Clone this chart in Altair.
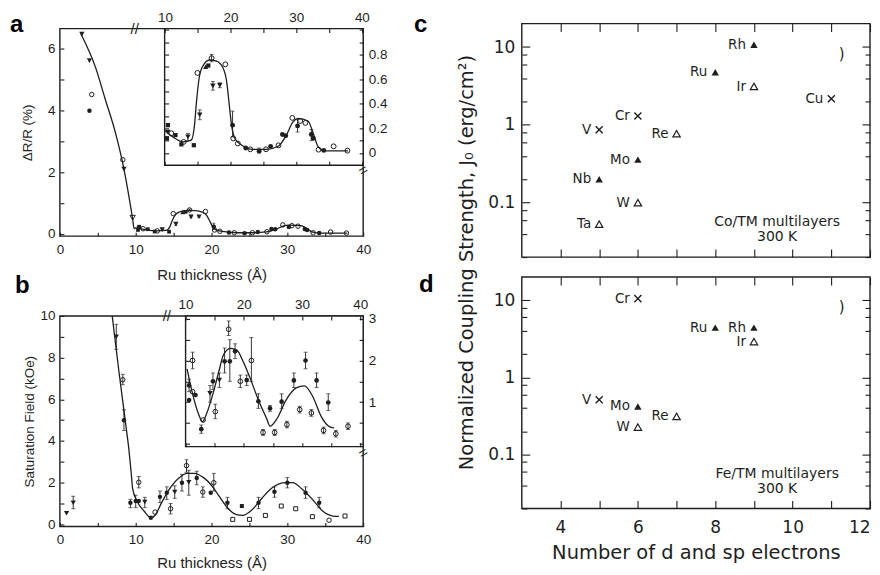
import altair as alt
import pandas as pd

# ================= DATA =================
# ---- Panel a, main: Delta R / R (%) vs Ru thickness (Angstrom), thin-Ru points ----
A_DOWN_X = [2.9, 3.9, 8.45]
A_DOWN_Y = [6.48, 5.62, 2.1]
A_OPEN_X = [4.2, 8.3]
A_OPEN_Y = [4.52, 2.4]
A_FILL_X = [3.9]
A_FILL_Y = [3.99]
A_OPENDOWN_X = [9.6]
A_OPENDOWN_Y = [0.52]
A_FIT_X = [2.75, 4.7, 6.0, 7.35, 8.45, 9.55, 9.8]
A_FIT_Y = [6.5, 5.4, 4.35, 3.26, 2.1, 0.55, 0.16]

# ---- Panel a, inset (same points are also plotted in the main panel) ----
AI_OPEN_X = [10.97, 12.85, 14.95, 17.1, 19.2, 20.4, 21.1, 23.0, 25.4, 27.3, 29.4, 30.6, 31.4, 33.4, 35.7, 37.8]
AI_OPEN_Y = [0.16, 0.09, 0.65, 0.77, 0.72, 0.118, 0.077, 0.03, 0.03, 0.062, 0.285, 0.26, 0.244, 0.027, 0.054, 0.019]
AI_FILL_X = [20.3, 22.3, 24.35, 26.1, 27.9, 28.4, 30.2, 32.3, 32.6, 34.2]
AI_FILL_Y = [0.226, 0.04, 0.015, 0.054, 0.15, 0.14, 0.22, 0.15, 0.12, 0.021]
AI_DOWN_X = [10.45, 13.5, 15.3, 17.3, 18.35]
AI_DOWN_Y = [0.17, 0.13, 0.31, 0.545, 0.55]
AI_SQ_X = [10.45, 10.3, 11.6, 12.5, 14.4, 16.6]
AI_SQ_Y = [0.226, 0.12, 0.145, 0.07, 0.063, 0.71]
AI_UP_X = [16.2]
AI_UP_Y = [0.70]
AI_ERR_X = [13.5, 15.3, 17.1, 17.3, 18.35, 20.3, 24.35, 30.2, 32.3]
AI_ERR_LO = [0.10, 0.27, 0.74, 0.51, 0.53, 0.13, 0.0, 0.17, 0.10]
AI_ERR_HI = [0.16, 0.35, 0.80, 0.58, 0.57, 0.34, 0.04, 0.27, 0.19]
AI_FIT_X = [9.95, 11.2, 12.75, 14.0, 14.5, 14.8, 15.2, 15.7, 16.8, 17.85, 18.85, 19.4, 19.8, 20.15,
            20.65, 21.7, 23.4, 25.5, 27.25, 28.5, 29.5, 30.3, 31.8, 32.6, 33.35, 34.4, 37.9]
AI_FIT_Y = [0.185, 0.13, 0.09, 0.104, 0.226, 0.415, 0.605, 0.70, 0.755, 0.746, 0.69, 0.58, 0.39, 0.226,
            0.118, 0.063, 0.03, 0.03, 0.055, 0.145, 0.253, 0.28, 0.26, 0.158, 0.05, 0.017, 0.017]

# ---- Panel b, main: saturation field (kOe) vs Ru thickness ----
B_DOWN_X = [0.88, 1.76, 7.44, 11.2, 15.15, 17.0]
B_DOWN_Y = [0.53, 1.04, 9.0, 1.07, 1.55, 2.02]
B_OPEN_X = [8.3, 10.4, 12.55, 14.6, 16.7, 18.85, 20.3, 35.5]
B_OPEN_Y = [6.94, 2.02, 0.59, 0.75, 2.82, 1.55, 2.0, 0.2]
B_FILL_X = [8.45, 9.3, 10.0, 10.4, 12.0, 13.2, 14.1, 16.1, 18.05, 19.9, 22.1, 26.2, 28.3, 30.0, 32.4, 34.2]
B_FILL_Y = [5.0, 1.04, 1.12, 1.12, 0.32, 1.32, 1.52, 2.0, 2.23, 1.52, 1.04, 1.04, 1.56, 2.0, 1.52, 1.04]
B_SQF_X = [24.0]
B_SQF_Y = [0.88]
B_SQO_X = [22.8, 25.0, 27.1, 29.2, 31.1, 33.3, 37.6]
B_SQO_Y = [0.24, 0.24, 0.43, 0.88, 0.75, 0.37, 0.4]
B_ERR_X = [1.76, 7.44, 8.3, 8.45, 10.4, 9.3, 10.0, 11.2, 13.2, 14.6, 14.1, 15.15, 16.1, 16.7, 17.0,
           18.05, 18.85, 20.3, 22.1, 26.2, 28.3, 30.0, 32.4, 34.2]
B_ERR_LO = [0.75, 8.4, 6.7, 4.5, 1.75, 0.8, 0.8, 0.8, 1.05, 0.5, 1.2, 1.25, 1.6, 2.5, 1.4,
            1.9, 1.3, 1.6, 0.75, 0.75, 1.3, 1.75, 1.25, 0.8]
B_ERR_HI = [1.35, 9.6, 7.2, 5.5, 2.3, 1.2, 1.4, 1.3, 1.6, 1.0, 1.8, 1.85, 2.4, 3.1, 2.6,
            2.55, 1.8, 2.45, 1.3, 1.3, 1.8, 2.25, 1.8, 1.3]
B_FIT_X = [6.9, 7.8, 8.7, 9.1, 9.4, 9.6, 10.2, 11.1, 12.0, 12.6, 13.3, 14.4, 15.7, 16.8, 17.7, 19.0,
           20.1, 21.0, 22.1, 23.2, 24.1, 25.4, 26.7, 28.0, 29.8, 30.7, 32.0, 33.3, 34.65, 36.0, 36.8]
B_FIT_Y = [10.0, 7.3, 4.75, 3.6, 2.5, 1.7, 1.1, 0.64, 0.32, 0.45, 0.96, 1.67, 2.23, 2.45, 2.45, 2.23,
           1.83, 1.35, 0.8, 0.48, 0.43, 0.72, 1.28, 1.76, 2.0, 2.0, 1.67, 1.2, 0.64, 0.4, 0.38]

# ---- Panel b, inset ----
BI_FILL_X = [10.6, 10.6, 11.7, 12.7, 14.7, 16.7, 17.6, 18.5, 20.5, 22.5, 24.5, 26.5, 28.6, 30.6, 32.5, 34.5]
BI_FILL_Y = [1.4, 1.05, 1.17, 0.35, 1.50, 1.98, 1.98, 2.22, 1.53, 1.02, 0.85, 1.01, 1.52, 2.0, 1.52, 0.99]
BI_DOWN_X = [14.2, 15.8]
BI_DOWN_Y = [1.21, 1.53]
BI_OPEN_X = [11.2, 11.2, 13.0, 15.1, 17.4, 19.4, 21.3, 23.3, 25.3, 27.4, 29.6, 31.6, 33.7, 35.8, 37.9]
BI_OPEN_Y = [2.0, 1.25, 0.57, 0.77, 2.75, 1.5, 2.0, 0.27, 0.27, 0.46, 0.82, 0.74, 0.32, 0.24, 0.42]
BI_ERR_X = [11.2, 10.6, 12.7, 14.2, 14.7, 15.1, 15.8, 16.7, 17.6, 17.4, 18.5, 19.4, 21.3, 20.5, 22.5,
            24.5, 23.3, 25.3, 26.5, 27.4, 28.6, 29.6, 30.6, 31.6, 32.5, 33.7, 34.5, 35.8, 37.9]
BI_ERR_LO = [1.8, 1.25, 0.25, 1.0, 1.3, 0.6, 1.35, 1.7, 1.5, 2.6, 2.05, 1.35, 1.5, 1.4, 0.85,
             0.78, 0.2, 0.2, 0.85, 0.38, 1.35, 0.74, 1.8, 0.66, 1.35, 0.24, 0.8, 0.16, 0.34]
BI_ERR_HI = [2.2, 1.55, 0.45, 1.4, 1.7, 0.95, 1.7, 2.3, 2.5, 2.95, 2.4, 1.65, 2.55, 1.65, 1.2,
             0.92, 0.34, 0.34, 1.2, 0.54, 1.7, 0.9, 2.2, 0.82, 1.7, 0.4, 1.2, 0.32, 0.5]
BI_FIT_X = [10.25, 11.4, 12.2, 12.9, 13.6, 14.8, 15.7, 16.5, 17.7, 18.8, 19.9, 21.1, 22.5, 23.9, 24.5,
            25.6, 27.3, 29.0, 30.4, 31.85, 33.3, 34.7, 35.5]
BI_FIT_Y = [1.8, 1.09, 0.72, 0.53, 0.72, 1.25, 1.73, 2.13, 2.29, 2.25, 1.97, 1.57, 1.05, 0.61, 0.42,
            0.58, 1.06, 1.34, 1.39, 1.13, 0.65, 0.41, 0.38]

# ---- Panel c: Co/TM multilayers ----
C_ELEM = ["V", "Cr", "Cu", "Nb", "Mo", "Ru", "Rh", "Ta", "W", "Re", "Ir"]
C_X = [5, 6, 11, 5, 6, 8, 9, 5, 6, 7, 9]
C_Y = [0.867, 1.30, 2.17, 0.20, 0.358, 4.75, 10.7, 0.053, 0.10, 0.77, 3.11]
C_SYM = ["x", "x", "x", "f", "f", "f", "f", "o", "o", "o", "o"]

# ---- Panel d: Fe/TM multilayers ----
D_ELEM = ["Cr", "V", "Mo", "Ru", "Rh", "W", "Re", "Ir"]
D_X = [6, 5, 6, 8, 9, 6, 7, 9]
D_Y = [10.5, 0.513, 0.42, 4.42, 4.42, 0.227, 0.312, 2.91]
D_SYM = ["x", "x", "f", "f", "f", "o", "o", "o"]

# ================= STYLE / LAYOUT =================
FA = "Liberation Sans"
FC = "DejaVu Sans"
INK = "#1e1e1e"
W, H = 866, 565
ONE = pd.DataFrame({"k": [0]})
XPATH = "M-1,-1L1,1M-1,1L1,-1"

# panel boxes in chart pixels: (left, right, top, bottom)
BOX_A = (52, 356, 20, 228)
BOX_AI = (157, 356, 20, 157)
BOX_B = (52, 356, 308, 519)
BOX_BI = (178, 356, 308, 439)
BOX_C = (515, 864, 15, 249)
BOX_D = (515, 864, 269, 501)

DOM_A = ([0, 40], [-0.08, 6.66])
DOM_AI = ([9.95, 40.2], [-0.1, 1.01])
DOM_B = ([0, 40], [-0.1, 10])
DOM_BI = ([10.0, 40.5], [-0.07, 3.07])
DOM_CD = ([3, 12], [0.02, 20])


def sx(dom, box):
    return alt.Scale(domain=dom, range=[box[0], box[1]], nice=False, zero=False)


def sy(dom, box, log=False):
    if log:
        return alt.Scale(type="log", domain=dom, range=[box[3], box[2]], nice=False)
    return alt.Scale(domain=dom, range=[box[3], box[2]], nice=False, zero=False)


def ax(orient, box, values, tick=4, labels=True, expr=None, font=FA, fs=13.5, pad=5,
       title=None, tfs=14, tpad=0, fmt=None, flush=False):
    L, R, T, B = box
    if orient == "left":
        off = -(L + tick)
    elif orient == "right":
        off = R - tick - W
    elif orient == "top":
        off = -(T + tick)
    else:
        off = B - tick - H
    kw = dict(orient=orient, values=values, offset=off, tickSize=tick, ticks=True, tickColor=INK,
              tickWidth=1.1, domain=False, grid=False, labels=labels, labelFont=font,
              labelFontSize=fs, labelColor=INK, labelPadding=pad, labelFlush=flush,
              labelOverlap=False, zindex=3, minExtent=0)
    if expr:
        kw["labelExpr"] = expr
    if fmt:
        kw["format"] = fmt
    if title is not None:
        kw.update(title=title, titleFont=font, titleFontSize=tfs, titleFontWeight="normal",
                  titleColor=INK, titlePadding=tpad)
    else:
        kw["title"] = None
    return alt.Axis(**kw)


def carrier(dom, xs_, ys_, xaxis, yaxis):
    df = pd.DataFrame({"x": [dom[0][0]], "y": [dom[1][0]]})
    return alt.Chart(df).mark_point(opacity=0).encode(
        x=alt.X("x:Q", scale=xs_, axis=xaxis), y=alt.Y("y:Q", scale=ys_, axis=yaxis))


def pts(xs, ys, xs_, ys_, shape="circle", filled=True, size=24, sw=1.0):
    df = pd.DataFrame({"x": xs, "y": ys})
    return alt.Chart(df).mark_point(shape=shape, filled=filled, size=size, color=INK,
                                    strokeWidth=sw, opacity=1).encode(
        x=alt.X("x:Q", scale=xs_), y=alt.Y("y:Q", scale=ys_))


def fit(xs, ys, xs_, ys_, width=1.3):
    df = pd.DataFrame({"x": xs, "y": ys})
    return alt.Chart(df).mark_line(color=INK, strokeWidth=width, interpolate="monotone").encode(
        x=alt.X("x:Q", scale=xs_), y=alt.Y("y:Q", scale=ys_))


def errs(xs, lo, hi, xs_, ys_, cap=4):
    df = pd.DataFrame({"x": xs, "lo": lo, "hi": hi})
    base = alt.Chart(df)
    r = base.mark_rule(color=INK, strokeWidth=0.9).encode(
        x=alt.X("x:Q", scale=xs_), y=alt.Y("lo:Q", scale=ys_), y2="hi:Q")
    t1 = base.mark_tick(color=INK, orient="horizontal", size=cap, thickness=0.9).encode(
        x=alt.X("x:Q", scale=xs_), y=alt.Y("lo:Q", scale=ys_))
    t2 = base.mark_tick(color=INK, orient="horizontal", size=cap, thickness=0.9).encode(
        x=alt.X("x:Q", scale=xs_), y=alt.Y("hi:Q", scale=ys_))
    return [r, t1, t2]


def frame(dom, white=False, sw=1.4):
    return alt.Chart(ONE).mark_rect(fill="white", fillOpacity=1 if white else 0, stroke=INK,
                                    strokeWidth=sw).encode(
        x=alt.datum(dom[0][0]), x2=alt.datum(dom[0][1]), y=alt.datum(dom[1][0]), y2=alt.datum(dom[1][1]))


def txt(x, y, text, font=FC, size=14, align="center", angle=0, baseline="middle", weight="normal"):
    return alt.Chart(ONE).mark_text(text=text, font=font, fontSize=size, align=align, angle=angle,
                                    baseline=baseline, fontWeight=weight, color=INK).encode(
        x=alt.datum(x), y=alt.datum(y))


def letter(px, py, s):
    return alt.Chart(ONE).mark_text(text=s, font=FA, fontSize=24, fontWeight="bold", align="left",
                                    baseline="alphabetic", color="#000").encode(
        x=alt.value(px), y=alt.value(py))


STEP5 = [0, 5, 10, 15, 20, 25, 30, 35, 40]
IN5 = [10, 15, 20, 25, 30, 35, 40]
EVEN = "datum.value % 2 == 0 ? datum.label : ''"
TENS = "datum.value % 10 == 0 ? datum.label : ''"

# ================= PANEL a =================
xa, ya = sx(DOM_A[0], BOX_A), sy(DOM_A[1], BOX_A)
gA = alt.layer(
    carrier(DOM_A, xa, ya,
            ax("bottom", BOX_A, STEP5, expr=TENS, pad=6, title="Ru  thickness  (Å)", tfs=15, tpad=12, fmt="d"),
            ax("left", BOX_A, [0, 1, 2, 3, 4, 5, 6], expr=EVEN, pad=5, title="ΔR/R (%)", tfs=13.5,
               tpad=13, fmt="d")),
    fit(A_FIT_X + AI_FIT_X, A_FIT_Y + AI_FIT_Y, xa, ya),
    *errs(AI_ERR_X, AI_ERR_LO, AI_ERR_HI, xa, ya, cap=3),
    pts(A_DOWN_X + AI_DOWN_X, A_DOWN_Y + AI_DOWN_Y, xa, ya, "triangle-down", True, 28),
    pts(A_OPENDOWN_X, A_OPENDOWN_Y, xa, ya, "triangle-down", False, 28),
    pts(A_OPEN_X + AI_OPEN_X, A_OPEN_Y + AI_OPEN_Y, xa, ya, "circle", False, 20),
    pts(A_FILL_X + AI_FILL_X, A_FILL_Y + AI_FILL_Y, xa, ya, "circle", True, 20),
    pts(AI_SQ_X, AI_SQ_Y, xa, ya, "square", True, 14),
    pts(AI_UP_X, AI_UP_Y, xa, ya, "triangle-up", True, 24),
    frame(DOM_A),
    txt(9.87, 6.66, "//", font=FA, size=15),
    txt(40, 2.06, "=", font=FA, size=15, angle=330),
    letter(2, 23, "a"),
)
xai, yai = sx(DOM_AI[0], BOX_AI), sy(DOM_AI[1], BOX_AI)
TENTHS = [0, 0.1, 0.2, 0.3, 0.4, 0.5, 0.6, 0.7, 0.8, 0.9, 1.0]
gAI = alt.layer(
    carrier(DOM_AI, xai, yai,
            ax("top", BOX_AI, IN5, expr=TENS, pad=4, fmt="d"),
            ax("right", BOX_AI, TENTHS, pad=5,
               expr="(round(datum.value*10) % 2 == 0 && datum.value < 0.85) ? (datum.value == 0 ? '0' : format(datum.value, '.1f')) : ''")),
    frame(DOM_AI, white=True),
    fit(AI_FIT_X, AI_FIT_Y, xai, yai),
    *errs(AI_ERR_X, AI_ERR_LO, AI_ERR_HI, xai, yai),
    pts(AI_DOWN_X, AI_DOWN_Y, xai, yai, "triangle-down", True, 30),
    pts(AI_OPEN_X, AI_OPEN_Y, xai, yai, "circle", False, 24),
    pts(AI_FILL_X, AI_FILL_Y, xai, yai, "circle", True, 24),
    pts(AI_SQ_X, AI_SQ_Y, xai, yai, "square", True, 18),
    pts(AI_UP_X, AI_UP_Y, xai, yai, "triangle-up", True, 28),
)
gAIt = carrier(DOM_AI, xai, yai,
               ax("bottom", BOX_AI, IN5, labels=False),
               ax("left", BOX_AI, TENTHS, labels=False))

# ================= PANEL b =================
xb, yb = sx(DOM_B[0], BOX_B), sy(DOM_B[1], BOX_B)
gB = alt.layer(
    carrier(DOM_B, xb, yb,
            ax("bottom", BOX_B, STEP5, expr=TENS, pad=6, title="Ru  thickness  (Å)", tfs=15, tpad=10, fmt="d"),
            ax("left", BOX_B, list(range(11)), expr=EVEN, pad=5, title="Saturation Field (kOe)",
               tfs=13.5, tpad=3, fmt="d")),
    fit(B_FIT_X, B_FIT_Y, xb, yb),
    *errs(B_ERR_X, B_ERR_LO, B_ERR_HI, xb, yb),
    pts(B_DOWN_X, B_DOWN_Y, xb, yb, "triangle-down", True, 28),
    pts(B_OPEN_X, B_OPEN_Y, xb, yb, "circle", False, 20),
    pts(B_FILL_X, B_FILL_Y, xb, yb, "circle", True, 20),
    pts(B_SQF_X, B_SQF_Y, xb, yb, "square", True, 16),
    pts(B_SQO_X, B_SQO_Y, xb, yb, "square", False, 16),
    frame(DOM_B),
    txt(14.1, 10, "//", font=FA, size=15),
    txt(40, 3.44, "=", font=FA, size=15, angle=330),
    letter(7, 285, "b"),
)
xbi, ybi = sx(DOM_BI[0], BOX_BI), sy(DOM_BI[1], BOX_BI)
HALVES = [0, 0.5, 1, 1.5, 2, 2.5, 3]
gBI = alt.layer(
    carrier(DOM_BI, xbi, ybi,
            ax("top", BOX_BI, IN5, expr=TENS, pad=4, fmt="d"),
            ax("right", BOX_BI, HALVES, pad=5,
               expr="(datum.value % 1 == 0 && datum.value > 0) ? format(datum.value, 'd') : ''")),
    frame(DOM_BI, white=True),
    fit(BI_FIT_X, BI_FIT_Y, xbi, ybi),
    *errs(BI_ERR_X, BI_ERR_LO, BI_ERR_HI, xbi, ybi),
    pts(BI_DOWN_X, BI_DOWN_Y, xbi, ybi, "triangle-down", True, 30),
    pts(BI_OPEN_X, BI_OPEN_Y, xbi, ybi, "circle", False, 22),
    pts(BI_FILL_X, BI_FILL_Y, xbi, ybi, "circle", True, 22),
)
gBIt = carrier(DOM_BI, xbi, ybi,
               ax("bottom", BOX_BI, IN5, labels=False),
               ax("left", BOX_BI, HALVES, labels=False))

# ================= PANELS c, d =================
INTS = [4, 5, 6, 7, 8, 9, 10, 11, 12]
MAJ = [0.1, 1, 10]
MIN = [0.02, 0.04, 0.06, 0.08, 0.2, 0.4, 0.6, 0.8, 2, 4, 6, 8]


def elem_layers(xs, ys, syms, labs, xs_, ys_):
    df = pd.DataFrame({"x": xs, "y": ys, "s": syms, "t": labs})
    base = alt.Chart(df).encode(x=alt.X("x:Q", scale=xs_), y=alt.Y("y:Q", scale=ys_))
    cross = base.transform_filter(alt.datum.s == "x").mark_point(
        shape=XPATH, size=50, strokeWidth=1.4, color=INK, filled=False, opacity=1)
    up = base.transform_filter(alt.datum.s == "f").mark_point(
        shape="triangle-up", filled=True, size=55, color=INK, opacity=1)
    op = base.transform_filter(alt.datum.s == "o").mark_point(
        shape="triangle-up", filled=False, size=55, strokeWidth=1.2, color=INK, opacity=1)
    lab = base.mark_text(align="right", dx=-8, font=FC, fontSize=13.5, color=INK).encode(text="t:N")
    return [cross, up, op, lab]


def cd_panel(box, xs_list, ys_list, syms, labs, note, show_x):
    xs_, ys_ = sx(DOM_CD[0], box), sy(DOM_CD[1], box, log=True)
    if show_x:
        xaxis = ax("bottom", box, INTS, tick=8, expr=EVEN, font=FC, fs=17, pad=11,
                   title="Number of d and sp electrons", tfs=19.5, tpad=8, fmt="d", flush=True)
    else:
        xaxis = ax("bottom", box, INTS, tick=8, labels=False)
    main = alt.layer(
        carrier(DOM_CD, xs_, ys_, xaxis, ax("left", box, MAJ, tick=8, font=FC, fs=17, pad=7)),
        frame(DOM_CD),
        *elem_layers(xs_list, ys_list, syms, labs, xs_, ys_),
        txt(11.27, 8.2, ")", font=FC, size=15),
        alt.Chart(ONE).mark_text(text=note, lineBreak="\n", font=FC, fontSize=14, lineHeight=15,
                                 align="center", baseline="middle", color=INK).encode(
            x=alt.datum(9.6), y=alt.datum(0.056)),
    )
    g2 = carrier(DOM_CD, xs_, ys_, ax("top", box, INTS, tick=8, labels=False),
                 ax("right", box, MAJ, tick=8, labels=False))
    g3 = carrier(DOM_CD, xs_, ys_, None, ax("left", box, MIN, tick=5, labels=False))
    g4 = carrier(DOM_CD, xs_, ys_, None, ax("right", box, MIN, tick=5, labels=False))
    return [main, g2, g3, g4]


gC = cd_panel(BOX_C, C_X, C_Y, C_SYM, C_ELEM, "Co/TM multilayers\n300 K", False)
gD = cd_panel(BOX_D, D_X, D_Y, D_SYM, D_ELEM, "Fe/TM multilayers\n300 K", True)

# shared y-axis title for c and d
TITLE_BOX = (470, 864, 24, 484)
gT = carrier(([0, 1], [0, 1]), sx([0, 1], TITLE_BOX), sy([0, 1], TITLE_BOX), None,
             alt.Axis(orient="left", offset=-470, ticks=False, labels=False, domain=False, grid=False,
                      minExtent=0, title="Normalized Coupling Strength, J₀ (erg/cm²)", titleFont=FC,
                      titleFontSize=19.5, titleFontWeight="normal", titleColor=INK, titlePadding=0))
letters = alt.layer(letter(407, 23, "c"), letter(412, 284, "d"))

chart = alt.layer(gA, gAI, gAIt, gB, gBI, gBIt, *gC, *gD, gT, letters).resolve_scale(
    x="independent", y="independent"
).properties(
    width=W, height=H, autosize=alt.AutoSizeParams(type="none"), padding=0
).configure_view(stroke=None)

chart.save("out.html", embed_options={"renderer": "svg", "actions": False})
